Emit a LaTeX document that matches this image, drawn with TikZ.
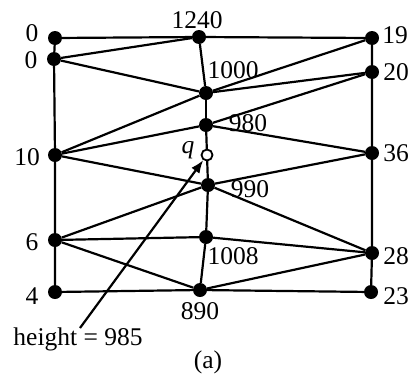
\documentclass[tikz,border=0pt]{standalone}
\usepackage{fontspec}
\setmainfont{Liberation Serif}
\usetikzlibrary{arrows.meta}
\begin{document}
\begin{tikzpicture}[x=1pt,y=-1pt,
  pt/.style={circle,fill=black,inner sep=0pt,minimum size=14pt},
  opt/.style={circle,draw=black,fill=white,line width=1.8pt,inner sep=0pt,minimum size=11pt},
  lab/.style={inner sep=0pt,font=\fontsize{25.5}{28}\selectfont},
  edge/.style={line width=2.2pt}]
\useasboundingbox (0,0) rectangle (411,378);
% vertices
\node[pt] (a) at (55,38) {};
\node[pt] (b) at (199,37) {};
\node[pt] (c) at (372,38) {};
\node[pt] (d) at (54,59) {};
\node[pt] (e) at (372,72) {};
\node[pt] (f) at (206,93) {};
\node[pt] (g) at (206,125) {};
\node[pt] (h) at (55,155) {};
\node[pt] (i) at (372,153) {};
\node[pt] (k) at (208,185) {};
\node[pt] (l) at (55,240) {};
\node[pt] (m) at (206,237) {};
\node[pt] (n) at (372,253) {};
\node[pt] (o) at (55,292) {};
\node[pt] (p) at (200,290) {};
\node[pt] (r) at (371,292) {};
% edges
\draw[edge] (a) -- (b) -- (c);
\draw[edge] (a) -- (d) -- (h) -- (l) -- (o);
\draw[edge] (c) -- (e) -- (i) -- (n) -- (r);
\draw[edge] (o) -- (p) -- (r);
\draw[edge] (d) -- (b);
\draw[edge] (d) -- (f);
\draw[edge] (b) -- (f);
\draw[edge] (f) -- (c);
\draw[edge] (f) -- (e);
\draw[edge] (f) -- (h);
\draw[edge] (f) -- (g);
\draw[edge] (g) -- (e);
\draw[edge] (g) -- (h);
\draw[edge] (g) -- (i);
\draw[edge] (g) -- (k);
\draw[edge] (h) -- (k);
\draw[edge] (i) -- (k);
\draw[edge] (k) -- (l);
\draw[edge] (k) -- (n);
\draw[edge] (k) -- (m);
\draw[edge] (l) -- (m);
\draw[edge] (m) -- (n);
\draw[edge] (l) -- (p);
\draw[edge] (m) -- (p);
\draw[edge] (p) -- (n);
\node[opt] (q) at (207,155) {};
% labels
\node[lab] (la) at (32,33) {0};
\node[lab] (lb) at (197,20) {1240};
\node[lab] (lc) at (395,35) {19};
\node[lab] (ld) at (31,60) {0};
\node[lab] (lf) at (233,70) {1000};
\node[lab] (le) at (396,72) {20};
\node[lab] (lg) at (248,123) {980};
\node[lab] (lq) at (188,150) {\itshape q};
\node[lab] (lh) at (27,157) {10};
\node[lab] (li) at (396,153) {36};
\node[lab] (lk) at (250,189) {990};
\node[lab] (ll) at (32,242) {6};
\node[lab] (lm) at (233,256) {1008};
\node[lab] (ln) at (396,256) {28};
\node[lab] (lo) at (32,296) {4};
\node[lab] (lp) at (200,311) {890};
\node[lab] (lr) at (396,296) {23};
\node[lab] (ht) at (78,339) {height = 985};
\node[lab] (cap) at (208,362) {(a)};
\coordinate (hs) at (80,328);
\draw[edge,-{Latex[length=13pt,width=10pt]}] (hs) -- (q);
\end{tikzpicture}
\end{document}
